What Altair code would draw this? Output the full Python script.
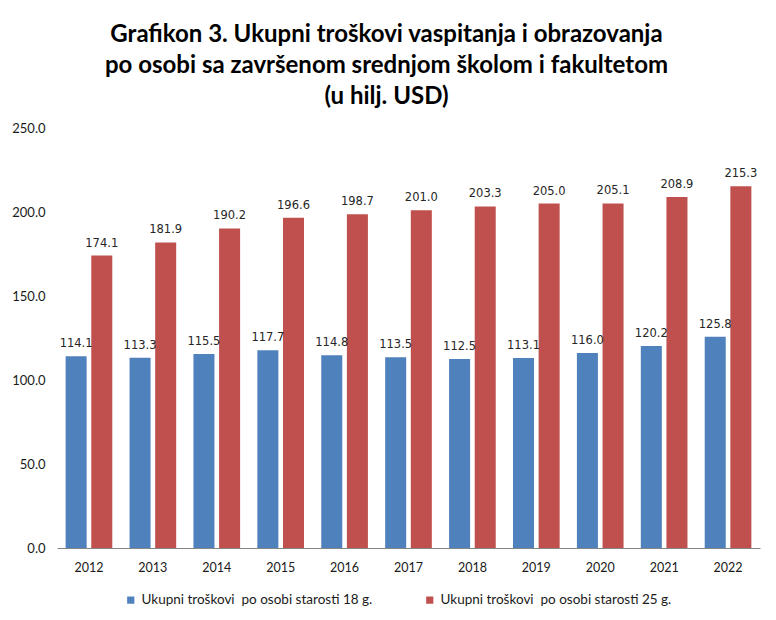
import altair as alt
import pandas as pd

years = ["2012", "2013", "2014", "2015", "2016", "2017", "2018", "2019", "2020", "2021", "2022"]
series_18 = [114.1, 113.3, 115.5, 117.7, 114.8, 113.5, 112.5, 113.1, 116.0, 120.2, 125.8]
series_25 = [174.1, 181.9, 190.2, 196.6, 198.7, 201.0, 203.3, 205.0, 205.1, 208.9, 215.3]
name_18 = "Ukupni troškovi\u00a0 po osobi starosti 18 g."
name_25 = "Ukupni troškovi\u00a0 po osobi starosti 25 g."
title_lines = [
    "Grafikon 3. Ukupni troškovi vaspitanja i obrazovanja",
    "po osobi sa završenom srednjom školom i fakultetom",
    "(u hilj. USD)",
]

rows = []
for y, a, b in zip(years, series_18, series_25):
    rows.append({"year": y, "series": name_18, "value": a})
    rows.append({"year": y, "series": name_25, "value": b})
df = pd.DataFrame(rows)

FONT = "Lato"

x = alt.X("year:N", sort=years, title=None,
          scale=alt.Scale(paddingInner=0.27, paddingOuter=0.135),
          axis=alt.Axis(labelAngle=0, ticks=False, domainColor="#868686",
                        labelPadding=13, labelFontSize=12.5, labelFont=FONT,
                        labelColor="#1a1a1a"))
xo = alt.XOffset("series:N", sort=[name_18, name_25],
                 scale=alt.Scale(paddingInner=0.18, paddingOuter=0))
y = alt.Y("value:Q", title=None,
          scale=alt.Scale(domain=[0, 250]),
          axis=alt.Axis(values=[0, 50, 100, 150, 200, 250], format=".1f", grid=False,
                        domain=False, ticks=False, labelPadding=12, labelFontSize=13,
                        labelFont=FONT, labelColor="#1a1a1a"))
color = alt.Color("series:N", sort=[name_18, name_25],
                  scale=alt.Scale(domain=[name_18, name_25], range=["#4F81BD", "#C0504D"]),
                  legend=alt.Legend(title=None, orient="none", direction="horizontal",
                                    legendX=67, legendY=465, symbolType="square",
                                    symbolSize=52, symbolStrokeWidth=0, columnPadding=50,
                                    labelOffset=4,
                                    labelFont=FONT, labelFontSize=13.5, labelColor="#1a1a1a",
                                    labelLimit=400))

bars = alt.Chart(df).mark_bar().encode(x=x, xOffset=xo, y=y, color=color)
labels = alt.Chart(df).mark_text(baseline="alphabetic", dy=-9, font="DejaVu Sans",
                                 fontSize=11.5, color="#262626").encode(
    x=x, xOffset=xo, y=y, text=alt.Text("value:Q", format=".1f"))

chart = (bars + labels).properties(
    width=703, height=420,
    autosize=alt.AutoSizeParams(type="none"),
    padding={"left": 49, "top": 120, "right": 8, "bottom": 68},
    title=alt.Title(title_lines, font=FONT, fontSize=24, fontWeight="bold",
                    color="#000000", anchor="middle", lineHeight=31, offset=13, dx=-22),
).configure(background="white", view=alt.ViewConfig(stroke=None))

chart.save("out.html", embed_options={"renderer": "svg", "actions": False})
